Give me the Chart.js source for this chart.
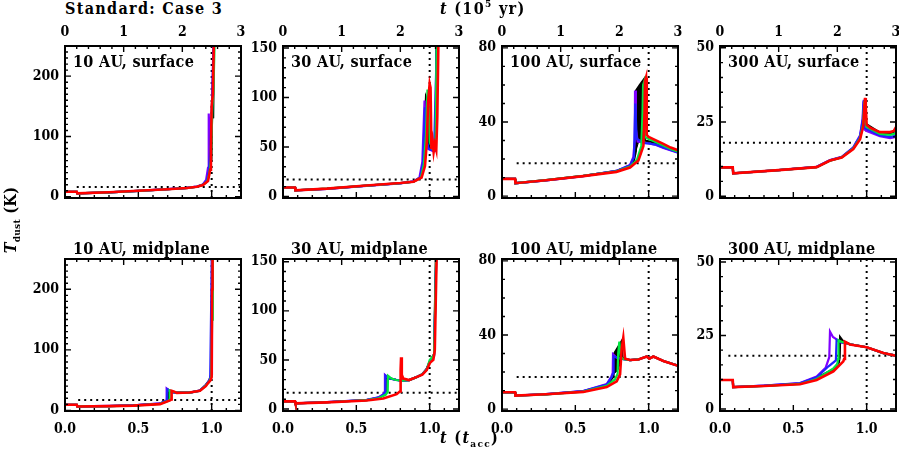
<!DOCTYPE html>
<html>
<head>
<meta charset="utf-8">
<script src="https://cdn.jsdelivr.net/npm/chart.js@4.4.1/dist/chart.umd.min.js"></script>
<style>
  body { margin: 0; background: #fff; width: 899px; height: 458px; position: relative; overflow: hidden;
         font-family: "DejaVu Serif Condensed", "Liberation Serif", serif; font-weight: bold; color: #000; }
  canvas { position: absolute; }
  .lab { position: absolute; font-size: 16px; line-height: 20px; white-space: nowrap; z-index: 5; letter-spacing: 0.3px; }
  .wide { letter-spacing: 1.3px; }
  .sup { font-size: 10px; position: relative; top: -7px; }
  .sub { font-size: 10px; position: relative; top: 4px; }
  .ytitle { left: -34px; top: 210px; width: 90px; height: 20px; text-align: center; transform: rotate(-90deg); }
</style>
</head>
<body>
<div class="lab wide" style="left:65px;top:-1px">Standard: Case 3</div>
<div class="lab wide" style="left:440px;top:-1px"><i>t</i> (10<span class="sup">5</span> yr)</div>
<div class="lab wide" style="left:440px;top:428px"><i>t</i> (<i>t</i><span class="sub">acc</span>)</div>
<div class="lab ytitle"><i>T</i><span class="sub">dust</span> (K)</div>
<script>
// time in units of t_acc (top axis shows the same in 10^5 yr, t_acc = 2.5e5 yr)
const xTicks = [0, 0.5, 1.0];
const x2Ticks = [0, 1, 2, 3];
const panelLabels = ['10 AU, surface', '30 AU, surface', '100 AU, surface', '300 AU, surface',
                     '10 AU, midplane', '30 AU, midplane', '100 AU, midplane', '300 AU, midplane'];
const yMinArr = [-2, -1.5, -1, -0.6, -1, -2, -1, -0.7];
const yMaxArr = [250, 152, 81, 50.6, 250, 152.8, 81, 51];
const yTicks = [[0, 100, 200], [0, 50, 100, 150], [0, 40, 80], [0, 25, 50],
                [0, 100, 200], [0, 50, 100, 150], [0, 40, 80], [0, 25, 50]];
const yMinor = [10, 10, 10, 5, 10, 10, 10, 5];
const hLevel = [16.4, 17.2, 17.7, 18, 17.3, 16.5, 17.3, 18.1];
const hStart = [0.08, 0.025, 0.1, 0.02, 0.09, 0.025, 0.1, 0.057];
const tAcc = 1.0;

// 10 AU surface
const s10sBlack = [[0,8.3],[0.08,8.3],[0.084,5.6],[0.3,7.4],[0.5,9.9],[0.7,12.5],[0.83,14.5],[0.9,16.6],[0.94,19.6],[0.97,26],[0.985,44],[0.998,62],[1.005,170],[1.01,130],[1.016,255]];
const s10sPurple = [[0,8.3],[0.08,8.3],[0.084,5.6],[0.3,7.3],[0.5,9.8],[0.7,12.6],[0.83,14.8],[0.9,17],[0.94,20.5],[0.962,28],[0.975,48],[0.98,138],[0.988,85],[1.0,120],[1.012,255]];
const s10sBlue = [[0,8.3],[0.08,8.3],[0.084,5.6],[0.3,7.3],[0.5,9.8],[0.7,12.6],[0.83,14.7],[0.9,16.9],[0.94,20.2],[0.967,27],[0.98,42],[0.99,75],[1.0,140],[1.015,255]];
const s10sGreen = [[0,8.3],[0.08,8.3],[0.084,5.6],[0.3,7.4],[0.5,9.9],[0.7,12.5],[0.83,14.6],[0.9,16.7],[0.94,19.8],[0.97,25.5],[0.985,40],[0.995,60],[1.005,150],[1.012,175],[1.02,255]];
const s10sRed = [[0,8.3],[0.08,8.3],[0.084,5.6],[0.3,7.5],[0.5,10],[0.7,12.6],[0.83,14.6],[0.9,16.6],[0.94,19.5],[0.975,26],[0.99,45],[0.995,80],[1.0,150],[1.008,170],[1.015,255]];
// 30 AU surface
const s30sBlack = [[0,9.1],[0.082,9.1],[0.085,6.3],[0.3,7.9],[0.57,11],[0.8,13.5],[0.89,15.1],[0.94,19.6],[0.958,38],[0.975,100],[0.985,96],[0.995,50],[1.02,47],[1.04,48],[1.046,160]];
const s30sPurple = [[0,9.1],[0.082,9.1],[0.085,6.3],[0.3,7.7],[0.57,10.8],[0.8,13.3],[0.89,15.2],[0.93,19],[0.95,35],[0.965,97],[0.975,60],[0.99,48],[1.02,46],[1.04,46],[1.05,160]];
const s30sBlue = [[0,9.1],[0.082,9.1],[0.085,6.3],[0.3,7.8],[0.57,10.9],[0.8,13.4],[0.89,15.1],[0.935,19.3],[0.955,35],[0.968,90],[0.98,55],[0.995,48],[1.03,46],[1.05,160]];
const s30sGreen = [[0,9.1],[0.082,9.1],[0.085,6.3],[0.3,7.9],[0.57,11],[0.8,13.4],[0.89,14.9],[0.94,19],[0.96,32],[0.975,62],[0.985,108],[0.993,98],[1.0,55],[1.02,48],[1.04,50],[1.048,160]];
const s30sRed = [[0,9.1],[0.082,9.1],[0.085,6.3],[0.3,8],[0.57,11.2],[0.8,13.6],[0.89,14.9],[0.945,19.2],[0.968,30.7],[0.98,53.7],[0.99,96.8],[1.0,114],[1.006,110],[1.012,48],[1.02,56],[1.027,45],[1.035,53],[1.045,47],[1.052,80],[1.06,160]];
// 100 AU surface
const s100sBlack = [[0,9.3],[0.089,9.3],[0.092,7],[0.3,8.6],[0.554,10.9],[0.78,13.5],[0.873,16.3],[0.9,19.5],[0.912,24],[0.914,57],[0.94,60],[0.968,63],[0.973,30],[1.0,29.6],[1.05,28.6],[1.1,26.6],[1.2,23.8]];
const s100sBand = [[0.912,24],[0.914,57],[0.94,60],[0.968,63],[0.973,30],[0.93,29],[0.912,24]];
const s100sPurple = [[0,9.3],[0.089,9.3],[0.092,7],[0.3,8.5],[0.554,10.8],[0.78,13.6],[0.873,16.8],[0.895,21],[0.905,30],[0.907,57],[0.913,36],[0.925,29.5],[0.97,28.8],[1.0,28.4],[1.05,27.6],[1.1,26],[1.2,23.4]];
const s100sBlue = [[0,9.3],[0.089,9.3],[0.092,7],[0.3,8.5],[0.554,10.8],[0.78,13.6],[0.873,16.6],[0.9,21],[0.909,50],[0.918,31],[0.97,28.6],[1.0,28.5],[1.05,27.8],[1.1,26.2],[1.2,23.6]];
const s100sGreen = [[0,9.3],[0.089,9.3],[0.092,7],[0.3,8.6],[0.554,10.9],[0.78,13.4],[0.873,16],[0.92,19.6],[0.95,27],[0.958,45],[0.962,60],[0.97,62],[0.975,32],[1.0,30.8],[1.032,29.8],[1.1,27.3],[1.15,25.4],[1.2,24]];
const s100sRed = [[0,9.3],[0.089,9.3],[0.092,7],[0.3,8.6],[0.554,10.8],[0.78,13.1],[0.873,15.4],[0.93,19.3],[0.964,27],[0.972,45],[0.975,62],[0.982,64],[0.987,33],[1.0,32],[1.032,30.8],[1.1,28.2],[1.15,26.2],[1.2,24.8]];
// 300 AU surface
const s300sBlack = [[0,9.7],[0.087,9.7],[0.09,7.7],[0.4,8.8],[0.659,9.8],[0.75,12],[0.83,13.1],[0.909,16.2],[0.955,19.8],[0.975,25],[0.982,31],[0.99,24.5],[1.09,21.4],[1.16,21.2],[1.2,22]];
const s300sPurple = [[0,9.7],[0.087,9.7],[0.09,7.7],[0.4,8.8],[0.659,9.9],[0.75,12.2],[0.83,13.3],[0.909,16.5],[0.955,20.5],[0.972,26],[0.978,32],[0.984,22.5],[1.0,22],[1.09,20.2],[1.16,19.6],[1.2,20]];
const s300sBlue = [[0,9.7],[0.087,9.7],[0.09,7.7],[0.4,8.8],[0.659,9.9],[0.75,12.1],[0.83,13.2],[0.909,16.4],[0.955,20.2],[0.974,26],[0.98,32.5],[0.987,23],[1.09,20.5],[1.16,20],[1.2,20.3]];
const s300sGreen = [[0,9.7],[0.087,9.7],[0.09,7.7],[0.4,8.8],[0.659,9.8],[0.75,12],[0.83,13.1],[0.909,16.1],[0.955,19.6],[0.975,24],[0.984,32],[0.99,25],[1.0,23.3],[1.09,21],[1.16,20.7],[1.2,21.2]];
const s300sRed = [[0,9.7],[0.087,9.7],[0.09,7.7],[0.4,8.8],[0.659,9.8],[0.75,12],[0.83,13],[0.909,15.9],[0.955,19.2],[0.977,23.6],[0.984,30],[0.989,33.1],[0.994,30],[1.0,24],[1.023,23.1],[1.09,21.6],[1.16,21.6],[1.185,22],[1.2,23.3]];
// 10 AU midplane
const s10mBlack = [[0,9.3],[0.08,9.3],[0.084,6.5],[0.3,7.2],[0.466,8.2],[0.648,11],[0.7,16.5],[0.705,34],[0.73,30.2],[0.762,29.2],[0.85,29.5],[0.92,32.8],[0.96,42],[0.985,50],[0.995,58],[1.002,170],[1.006,255]];
const s10mPurple = [[0,9.3],[0.08,9.3],[0.084,6.5],[0.3,7.3],[0.466,8.4],[0.648,11.5],[0.69,16],[0.693,36],[0.72,31],[0.75,29.5],[0.85,29.5],[0.92,32.6],[0.96,42],[0.98,48],[0.998,60],[1.002,255]];
const s10mBlue = [[0,9.3],[0.08,9.3],[0.084,6.5],[0.3,7.2],[0.466,8.3],[0.648,11.3],[0.695,16.2],[0.698,35],[0.725,30.5],[0.76,29.3],[0.85,29.5],[0.92,32.6],[0.96,41.5],[0.99,52],[1.001,255]];
const s10mGreen = [[0,9.3],[0.08,9.3],[0.084,6.5],[0.3,7],[0.466,8],[0.648,10.8],[0.705,16],[0.712,18],[0.714,33],[0.74,30.5],[0.762,29.2],[0.85,29.5],[0.92,32.4],[0.96,41],[0.985,48],[0.998,56],[1.003,150],[1.008,255]];
const s10mRed = [[0,9.3],[0.08,9.3],[0.084,6.5],[0.3,7],[0.466,7.9],[0.648,10.3],[0.716,16.4],[0.725,18],[0.727,32.4],[0.745,31],[0.762,29],[0.85,29.5],[0.92,32.4],[0.96,40],[0.977,45.5],[0.993,50],[1.0,55],[1.003,200],[1.006,255]];
// 30 AU midplane
const s30mBlack = [[0,7.8],[0.082,7.8],[0.085,5.8],[0.3,6.9],[0.57,9],[0.65,11.3],[0.69,14.5],[0.698,17],[0.7,33],[0.72,31.5],[0.77,29.8],[0.81,29],[0.86,29.5],[0.91,32.5],[0.95,35.5],[0.98,41],[1.0,48],[1.03,56],[1.043,160]];
const s30mPurple = [[0,7.8],[0.082,7.8],[0.085,5.8],[0.3,7],[0.57,9.3],[0.65,11.8],[0.68,14.5],[0.693,17],[0.695,34.8],[0.72,31.5],[0.77,29.8],[0.81,29],[0.86,29.5],[0.91,32.6],[0.95,35.5],[0.98,40.5],[1.0,48],[1.03,54],[1.046,160]];
const s30mBlue = [[0,7.8],[0.082,7.8],[0.085,5.8],[0.3,7],[0.57,9.2],[0.65,11.6],[0.685,14.6],[0.696,17],[0.698,34],[0.72,31.3],[0.77,29.7],[0.81,29],[0.86,29.5],[0.91,32.5],[0.95,35.4],[0.98,40.2],[1.0,48.5],[1.03,55],[1.046,160]];
const s30mGreen = [[0,7.8],[0.082,7.8],[0.085,5.8],[0.3,6.9],[0.57,9],[0.65,11],[0.7,14.5],[0.714,17.5],[0.716,33.9],[0.74,31],[0.77,29.6],[0.81,29],[0.86,29.5],[0.91,32.5],[0.95,35.5],[0.98,40],[1.0,50],[1.03,55],[1.045,160]];
const s30mRed = [[0,7.8],[0.082,7.8],[0.085,5.8],[0.3,6.8],[0.57,8.7],[0.684,10.8],[0.775,15.1],[0.798,18],[0.802,40],[0.805,52.8],[0.81,35],[0.82,31],[0.86,29.5],[0.91,32.5],[0.95,35],[0.98,39.7],[1.002,47],[1.025,50],[1.035,60],[1.048,160]];
// 100 AU midplane
const s100mBlack = [[0,9.1],[0.089,9.1],[0.092,7.3],[0.3,8],[0.554,9.6],[0.714,13],[0.76,17.5],[0.765,30],[0.8,34.5],[0.815,36.5],[0.822,27.5],[0.873,26.5],[0.93,26.8],[0.987,28.4],[1.004,27.2],[1.032,28.4],[1.1,26],[1.2,23.4]];
const s100mBand = [[0.762,19],[0.765,30],[0.8,34.5],[0.815,36.5],[0.82,28],[0.79,21],[0.762,19]];
const s100mPurple = [[0,9.1],[0.089,9.1],[0.092,7.3],[0.3,8.1],[0.554,9.8],[0.714,13.5],[0.745,17.5],[0.755,19.5],[0.757,29.6],[0.78,27.8],[0.827,27],[0.873,26.5],[0.93,26.8],[0.987,28.4],[1.004,27.2],[1.032,28.4],[1.1,26],[1.2,23.4]];
const s100mBlue = [[0,9.1],[0.089,9.1],[0.092,7.3],[0.3,8.1],[0.554,9.7],[0.714,13.3],[0.75,17.6],[0.758,19.5],[0.761,28.5],[0.79,27.6],[0.83,27],[0.873,26.5],[0.93,26.8],[0.987,28.4],[1.004,27.2],[1.032,28.4],[1.1,26],[1.2,23.4]];
const s100mGreen = [[0,9.1],[0.089,9.1],[0.092,7.3],[0.3,8],[0.554,9.5],[0.714,12.6],[0.77,16],[0.788,19],[0.792,30],[0.8,36.5],[0.81,28],[0.83,27],[0.873,26.5],[0.93,26.8],[0.987,28.4],[1.004,27.2],[1.032,28.4],[1.1,26],[1.2,23.4]];
const s100mRed = [[0,9.1],[0.089,9.1],[0.092,7.3],[0.3,8],[0.554,9.3],[0.714,11.9],[0.782,15],[0.805,18.8],[0.816,32.6],[0.827,38.5],[0.839,27.2],[0.873,26.5],[0.93,26.8],[0.987,28.4],[1.004,27.2],[1.032,28.4],[1.1,26],[1.2,23.4]];
// 300 AU midplane
const s300mBlack = [[0,9.85],[0.087,9.85],[0.09,7.43],[0.3,7.8],[0.545,8.6],[0.659,10.5],[0.773,13.5],[0.81,15.8],[0.816,17.5],[0.819,24.4],[0.84,23],[0.886,22],[1.0,21],[1.114,19],[1.2,18.1]];
const s300mPurple = [[0,9.85],[0.087,9.85],[0.09,7.43],[0.3,7.9],[0.545,8.8],[0.659,11],[0.72,14],[0.745,17.6],[0.75,26.3],[0.77,24.5],[0.8,23.5],[0.83,22.5],[0.886,22],[1.0,21],[1.114,19],[1.2,18.1]];
const s300mBlue = [[0,9.85],[0.087,9.85],[0.09,7.43],[0.3,7.9],[0.545,8.7],[0.659,10.8],[0.74,14.5],[0.79,16.5],[0.795,23.5],[0.82,22.8],[0.886,22],[1.0,21],[1.114,19],[1.2,18.1]];
const s300mGreen = [[0,9.85],[0.087,9.85],[0.09,7.43],[0.3,7.8],[0.545,8.5],[0.659,10.2],[0.773,13.8],[0.8,15.2],[0.805,17],[0.808,23.4],[0.83,22.8],[0.886,22],[1.0,21],[1.114,19],[1.2,18.1]];
const s300mRed = [[0,9.85],[0.087,9.85],[0.09,7.43],[0.3,7.8],[0.545,8.4],[0.659,9.85],[0.773,12.75],[0.841,16.2],[0.846,17],[0.852,22.9],[0.886,21.95],[1.0,21],[1.114,19],[1.2,18.1]];

const panelSeries = [
  [s10sBlack, s10sPurple, s10sBlue, s10sGreen, s10sRed, null],
  [s30sBlack, s30sPurple, s30sBlue, s30sGreen, s30sRed, null],
  [s100sBlack, s100sPurple, s100sBlue, s100sGreen, s100sRed, s100sBand],
  [s300sBlack, s300sPurple, s300sBlue, s300sGreen, s300sRed, null],
  [s10mBlack, s10mPurple, s10mBlue, s10mGreen, s10mRed, null],
  [s30mBlack, s30mPurple, s30mBlue, s30mGreen, s30mRed, null],
  [s100mBlack, s100mPurple, s100mBlue, s100mGreen, s100mRed, s100mBand],
  [s300mBlack, s300mPurple, s300mBlue, s300mGreen, s300mRed, null]
];
const lineColors = ['#000000', '#8000ff', '#2020ff', '#00e840', '#ff0000'];
const lineWidths = [2.2, 2.2, 2.2, 2.2, 2.6];
const lineOrder = [5, 4, 3, 2, 1];

const colLeft = [65, 283, 502, 720];
const rowTop = [46, 233];
const plotW = 176, plotH = 178;
const padL = 50, padAxis = 26, padSide = 10;
const tickFont = { family: '"DejaVu Serif Condensed", "Liberation Serif", serif', size: 14, weight: 'bold' };

const xy = a => a.map(p => ({ x: p[0], y: p[1] }));

function tickLoop(min, max, step, major, fn) {
  const k0 = Math.ceil(min / step - 1e-9), k1 = Math.floor(max / step + 1e-9);
  for (let k = k0; k <= k1; k++) {
    const v = k * step, r = v / major;
    fn(v, Math.abs(r - Math.round(r)) < 1e-6);
  }
}

// IDL style box with inward ticks on all four sides
function frameTicks(p) {
  return {
    id: 'frameTicks',
    afterDatasetsDraw(chart) {
      const ctx = chart.ctx, a = chart.chartArea;
      const ys = chart.scales.y, xs = chart.scales.x, x2 = chart.scales.x2;
      ctx.save();
      ctx.strokeStyle = '#000';
      ctx.lineWidth = 1.4;
      ctx.beginPath();
      tickLoop(yMinArr[p], yMaxArr[p], yMinor[p], yTicks[p][1] - yTicks[p][0], (v, major) => {
        const py = ys.getPixelForValue(v), len = major ? 6 : 3;
        ctx.moveTo(a.left, py); ctx.lineTo(a.left + len, py);
        ctx.moveTo(a.right, py); ctx.lineTo(a.right - len, py);
      });
      tickLoop(0, 1.2, 0.1, 0.5, (v, major) => {
        const px = xs.getPixelForValue(v), len = major ? 6 : 3;
        ctx.moveTo(px, a.bottom); ctx.lineTo(px, a.bottom - len);
      });
      tickLoop(0, 3, 0.2, 1, (v, major) => {
        const px = x2.getPixelForValue(v), len = major ? 6 : 3;
        ctx.moveTo(px, a.top); ctx.lineTo(px, a.top + len);
      });
      ctx.stroke();
      ctx.lineWidth = 2;
      ctx.strokeRect(a.left, a.top, a.right - a.left, a.bottom - a.top);
      ctx.restore();
    }
  };
}

for (let p = 0; p < 8; p++) {
  const row = p < 4 ? 0 : 1, col = p % 4;
  const cv = document.createElement('canvas');
  const w = padL + plotW + padSide, h = padAxis + plotH + padSide;
  cv.width = w; cv.height = h;
  cv.style.width = w + 'px'; cv.style.height = h + 'px';
  cv.style.left = (colLeft[col] - padL) + 'px';
  cv.style.top = (rowTop[row] - (row === 0 ? padAxis : padSide)) + 'px';
  document.body.appendChild(cv);

  const datasets = [];
  const ser = panelSeries[p];
  for (let i = 0; i < 5; i++) {
    datasets.push({ data: xy(ser[i]), borderColor: lineColors[i], borderWidth: lineWidths[i],
                    pointRadius: 0, fill: false, order: lineOrder[i] });
  }
  if (ser[5]) {
    datasets.push({ data: xy(ser[5]), borderColor: '#000', backgroundColor: '#000', borderWidth: 1,
                    pointRadius: 0, fill: 'shape', order: 6 });
  }
  const dot = { borderColor: '#000', borderWidth: 2, borderDash: [2, 4], pointRadius: 0, fill: false, order: 7 };
  datasets.push(Object.assign({ data: xy([[hStart[p], hLevel[p]], [1.2, hLevel[p]]]) }, dot));
  datasets.push(Object.assign({ data: xy([[tAcc, yMinArr[p]], [tAcc, yMaxArr[p]]]) }, dot));

  new Chart(cv, {
    type: 'line',
    data: { datasets },
    options: {
      responsive: false,
      animation: false,
      events: [],
      layout: { padding: { left: 0, right: padSide, top: row === 0 ? 0 : padSide, bottom: row === 0 ? padSide : 0 } },
      plugins: { legend: { display: false }, tooltip: { enabled: false } },
      elements: { line: { tension: 0 } },
      scales: {
        x: {
          type: 'linear', position: 'bottom', min: 0, max: 1.2, display: row === 1,
          grid: { display: false, drawTicks: false }, border: { display: false },
          afterBuildTicks: s => { s.ticks = xTicks.map(v => ({ value: v })); },
          afterFit: s => { s.height = padAxis; },
          ticks: { font: tickFont, color: '#000', padding: 10, maxRotation: 0, autoSkip: false,
                   callback: v => Number(v).toFixed(1) }
        },
        x2: {
          type: 'linear', position: 'top', min: 0, max: 3, display: row === 0,
          grid: { display: false, drawTicks: false }, border: { display: false },
          afterBuildTicks: s => { s.ticks = x2Ticks.map(v => ({ value: v })); },
          afterFit: s => { s.height = padAxis; },
          ticks: { font: tickFont, color: '#000', padding: 5, maxRotation: 0, autoSkip: false,
                   callback: v => String(v) }
        },
        y: {
          type: 'linear', position: 'left', min: yMinArr[p], max: yMaxArr[p],
          grid: { display: false, drawTicks: false }, border: { display: false },
          afterBuildTicks: s => { s.ticks = yTicks[p].map(v => ({ value: v })); },
          afterFit: s => { s.width = padL; },
          ticks: { font: tickFont, color: '#000', padding: 6, autoSkip: false, callback: v => String(v) }
        }
      }
    },
    plugins: [frameTicks(p)]
  });

  const lab = document.createElement('div');
  lab.className = 'lab';
  lab.style.left = (colLeft[col] + 8) + 'px';
  lab.style.top = (rowTop[row] + 6) + 'px';
  lab.textContent = panelLabels[p];
  document.body.appendChild(lab);
}
</script>
</body>
</html>
